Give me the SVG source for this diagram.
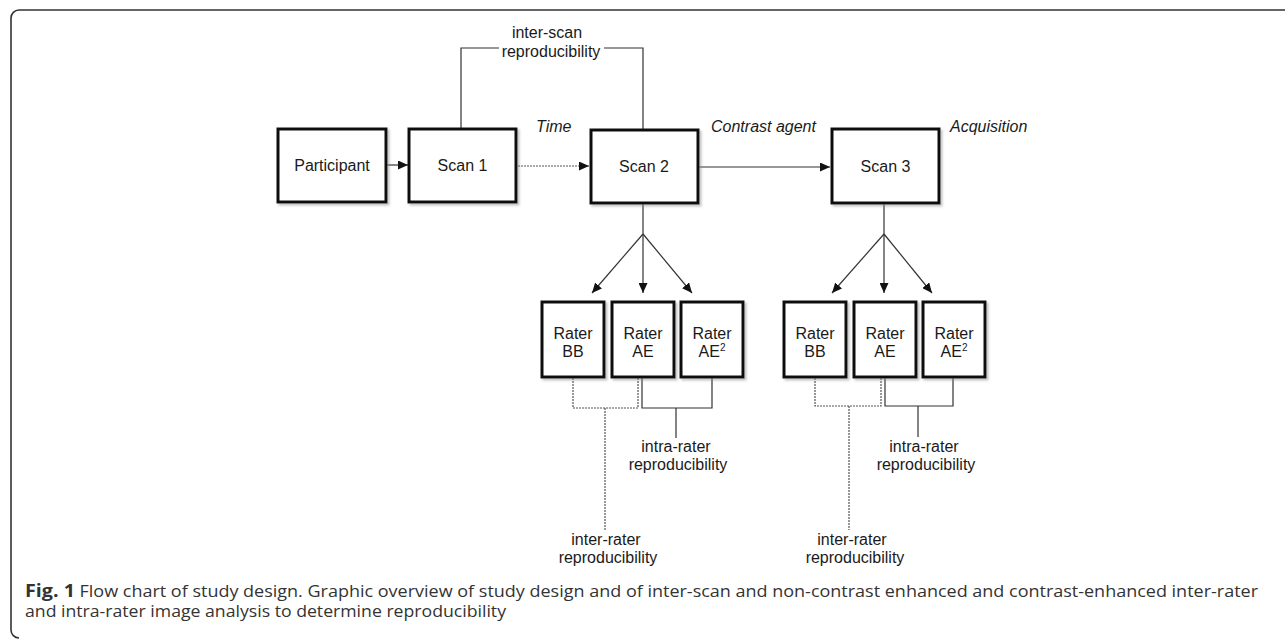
<svg xmlns="http://www.w3.org/2000/svg" width="1285" height="639" viewBox="0 0 1285 639">
<style>
.box{fill:#fff;stroke:#111;stroke-width:3;filter:url(#sh)}
.t{font-family:"Liberation Sans",Arial,sans-serif;font-size:16px;fill:#1a1a1a;text-anchor:middle}
.it{font-family:"Liberation Sans",Arial,sans-serif;font-size:16px;fill:#1a1a1a;font-style:italic}
.ln{fill:none;stroke:#333;stroke-width:1.2}
.dash{fill:none;stroke:#555;stroke-width:1.2;stroke-dasharray:2 1}
.cap{font-family:"Open Sans","DejaVu Sans",sans-serif;font-size:16px;fill:#333}
.frame{fill:none;stroke:#333;stroke-width:1.6}
</style>
<defs>
<filter id="sh" x="-20%" y="-20%" width="150%" height="150%">
<feDropShadow dx="2" dy="2" stdDeviation="1.2" flood-color="#888" flood-opacity="0.5"/>
</filter>
<marker id="ah" markerUnits="userSpaceOnUse" markerWidth="10" markerHeight="9" refX="10" refY="4.5" orient="auto">
<path d="M0,0 L10,4.5 L0,9 z" fill="#111"/>
</marker>
</defs>

<path class="frame" d="M1285 10 H19 A8 8 0 0 0 11 18 V630 A8 8 0 0 0 19 638"/>

<g id="connectors">
<line class="ln" x1="386" y1="165" x2="408" y2="165" marker-end="url(#ah)"/>
<line class="dash" x1="518" y1="166" x2="589" y2="166" marker-end="url(#ah)"/>
<line class="ln" x1="699" y1="167" x2="830" y2="167" marker-end="url(#ah)"/>
<path class="ln" d="M461 128 V48 H499 M604 48 H643 V129"/>
<path class="ln" d="M643 204 V234"/>
<line class="ln" x1="643" y1="234" x2="592" y2="293" marker-end="url(#ah)"/>
<line class="ln" x1="643" y1="234" x2="643" y2="293" marker-end="url(#ah)"/>
<line class="ln" x1="643" y1="234" x2="692" y2="293" marker-end="url(#ah)"/>
<path class="ln" d="M884 204 V234"/>
<line class="ln" x1="884" y1="234" x2="832" y2="293" marker-end="url(#ah)"/>
<line class="ln" x1="884" y1="234" x2="884" y2="293" marker-end="url(#ah)"/>
<line class="ln" x1="884" y1="234" x2="932" y2="293" marker-end="url(#ah)"/>
<path class="dash" d="M573 378 V408 H638 V378 M605 408 V530"/>
<path class="ln" d="M642 378 V408 H712 V378 M676 408 V438"/>
<path class="dash" d="M815 378 V406 H881 V378 M849 406 V530"/>
<path class="ln" d="M885 378 V406 H953 V378 M918 406 V437"/>
</g>

<g id="participant"><rect class="box" x="278" y="129" width="108" height="73"/><text class="t" x="332" y="171">Participant</text></g>
<g id="scan1"><rect class="box" x="409" y="129" width="107" height="73"/><text class="t" x="462.5" y="171">Scan 1</text></g>
<g id="scan2"><rect class="box" x="591" y="130" width="107" height="73"/><text class="t" x="644" y="172">Scan 2</text></g>
<g id="scan3"><rect class="box" x="832" y="129" width="107" height="74"/><text class="t" x="885.5" y="172">Scan 3</text></g>

<g id="g1-rater-bb"><rect class="box" x="542" y="302" width="62" height="75"/><text class="t" x="573" y="339">Rater</text><text class="t" x="573" y="357">BB</text></g>
<g id="g1-rater-ae"><rect class="box" x="612" y="302" width="62" height="75"/><text class="t" x="643" y="339">Rater</text><text class="t" x="643" y="357">AE</text></g>
<g id="g1-rater-ae2"><rect class="box" x="681" y="302" width="62" height="75"/><text class="t" x="712" y="339">Rater</text><text class="t" x="712" y="357">AE<tspan font-size="10" dy="-6">2</tspan></text></g>

<g id="g2-rater-bb"><rect class="box" x="784" y="302" width="62" height="75"/><text class="t" x="815" y="339">Rater</text><text class="t" x="815" y="357">BB</text></g>
<g id="g2-rater-ae"><rect class="box" x="854" y="302" width="62" height="75"/><text class="t" x="885" y="339">Rater</text><text class="t" x="885" y="357">AE</text></g>
<g id="g2-rater-ae2"><rect class="box" x="923" y="302" width="62" height="75"/><text class="t" x="954" y="339">Rater</text><text class="t" x="954" y="357">AE<tspan font-size="10" dy="-6">2</tspan></text></g>

<g id="labels">
<text class="t" x="547" y="38">inter-scan</text>
<text class="t" x="551" y="57">reproducibility</text>
<text class="it" x="536" y="132">Time</text>
<text class="it" x="711" y="132">Contrast agent</text>
<text class="it" x="950" y="132">Acquisition</text>
<text class="t" x="676" y="452">intra-rater</text>
<text class="t" x="678" y="470">reproducibility</text>
<text class="t" x="924" y="452">intra-rater</text>
<text class="t" x="926" y="470">reproducibility</text>
<text class="t" x="606" y="545">inter-rater</text>
<text class="t" x="608" y="563">reproducibility</text>
<text class="t" x="852" y="545">inter-rater</text>
<text class="t" x="855" y="563">reproducibility</text>
</g>

<g id="caption">
<text class="cap" x="25" y="597" textLength="1233" lengthAdjust="spacingAndGlyphs"><tspan font-weight="bold" font-size="17.5">Fig. 1</tspan> Flow chart of study design. Graphic overview of study design and of inter-scan and non-contrast enhanced and contrast-enhanced inter-rater</text>
<text class="cap" x="25" y="617" textLength="481" lengthAdjust="spacingAndGlyphs">and intra-rater image analysis to determine reproducibility</text>
</g>
</svg>
